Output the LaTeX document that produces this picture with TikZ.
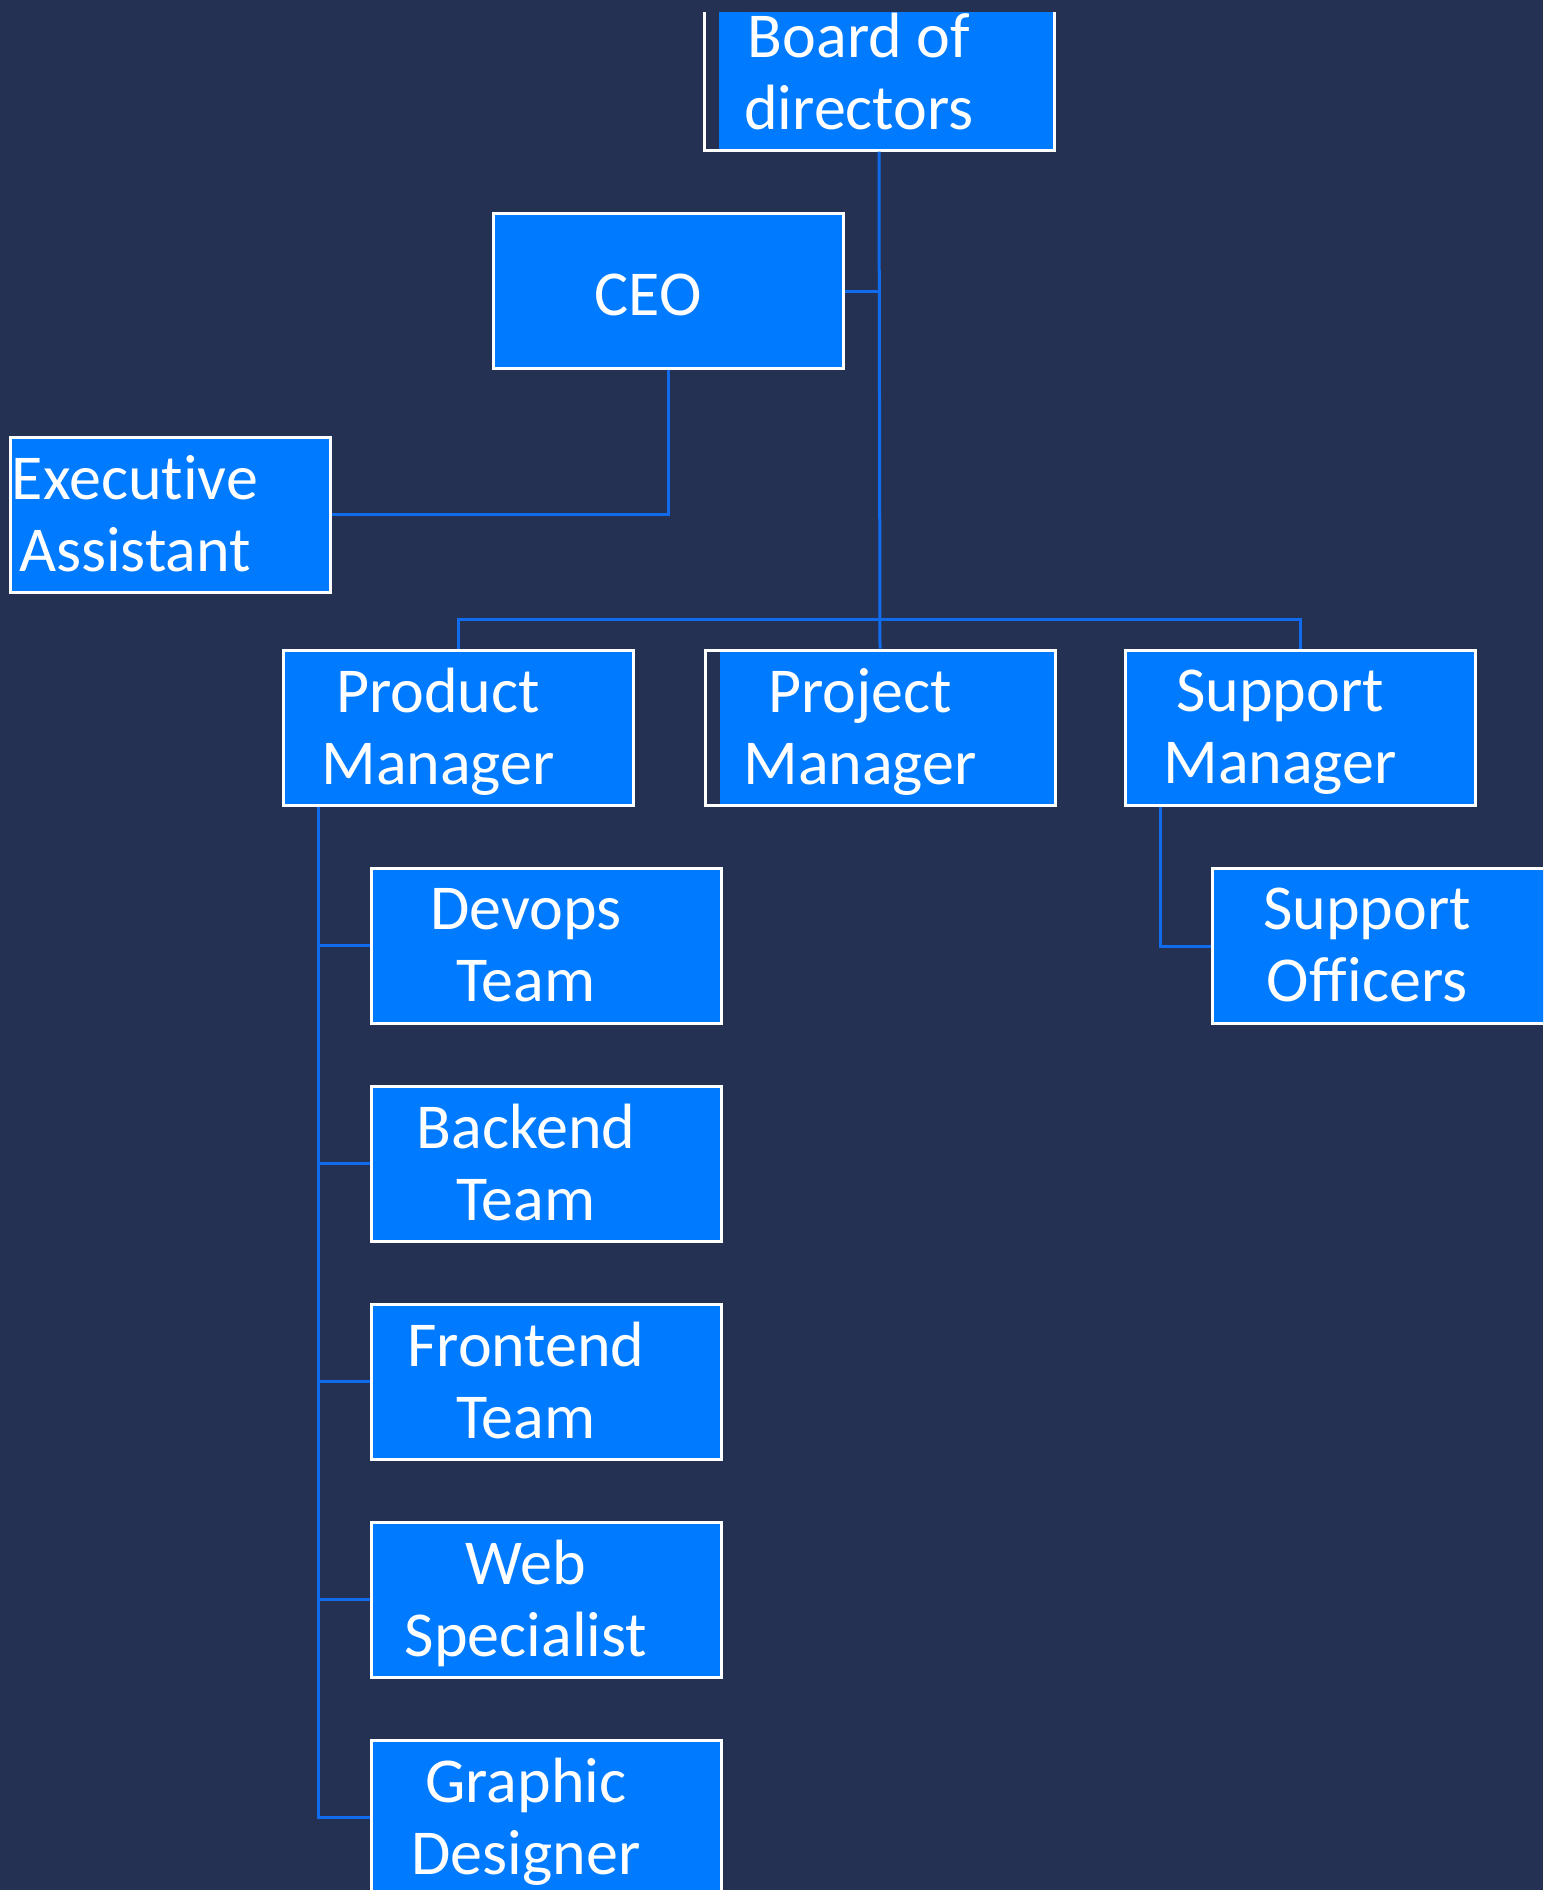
\documentclass[tikz,border=0pt]{standalone}
\usepackage{fontspec}
\setmainfont{Carlito}[Ligatures=NoCommon]
\definecolor{navy}{RGB}{37,49,83}
\definecolor{boxblue}{RGB}{0,123,255}
\definecolor{linkblue}{RGB}{16,108,236}

\begin{document}
\begin{tikzpicture}[x=0.5pt, y=-0.5pt,
  box/.style={draw=white, line width=1.5pt, fill=boxblue, minimum width=175pt, minimum height=77.5pt, inner sep=0pt},
  gapbox/.style={box, fill=navy, path picture={\fill[boxblue] ([xshift=7.5pt]path picture bounding box.south west) rectangle (path picture bounding box.north east);}},
  txt/.style={text=white, align=center, font=\fontsize{32}{36}\selectfont, execute at begin node=\strut, execute at end node=\strut, xshift=-10pt, yshift=-5pt},
  link/.style={draw=linkblue, line width=1.5pt}]
  \fill[navy] (0,0) rectangle (1543,1890);
  \useasboundingbox (0,0) rectangle (1543,1890);
  \clip (0,12) rectangle (1543,1890);

  % top levels
  \node[gapbox, label={[txt]center:Board of\\directors}] (bod) at (879,72.5) {};
  \node[box, label={[txt]center:CEO}] (ceo) at (668,291) {};
  \node[box, minimum width=160pt, label={[txt, xshift=-7.5pt]center:Executive\\Assistant}] (ea) at (170,514.5) {};

  % managers
  \node[box, label={[txt]center:Product\\Manager}] (pm) at (458,727.5) {};
  \node[gapbox, label={[txt]center:Project\\Manager}] (pj) at (880,727.5) {};
  \node[box, label={[txt]center:Support\\Manager}] (sm) at (1300,727.5) {};
  \node[box, label={[txt]center:Support\\Officers}] (so) at (1387,946) {};

  % teams
  \node[box, label={[txt]center:Devops\\Team}] (dt) at (546,945.5) {};
  \node[box, label={[txt]center:Backend\\Team}] (bt) at (546,1163.5) {};
  \node[box, label={[txt]center:Frontend\\Team}] (ft) at (546,1381.5) {};
  \node[box, label={[txt]center:Web\\Specialist}] (ws) at (546,1599.5) {};
  \node[box, label={[txt]center:Graphic\\Designer}] (gd) at (546,1817.5) {};

  \coordinate (bar) at (879,619);
  \coordinate (trunk) at ([xshift=18.5pt]pm.south west);
  \coordinate (smtrunk) at ([xshift=18.5pt]sm.south west);

  \draw[link] (bod.south) -- (pj.north);
  \draw[link] (pm.north) |- (bar) -| (sm.north);
  \draw[link] (ceo.east) -- (ceo.east -| bod.south);
  \draw[link] (ceo.south) |- (ea.east);
  \draw[link] (trunk) |- (gd.west);
  \foreach \t in {dt,bt,ft,ws}
    \draw[link] (trunk |- \t.west) -- (\t.west);
  \draw[link] (smtrunk) |- (so.west);
\end{tikzpicture}
\end{document}
